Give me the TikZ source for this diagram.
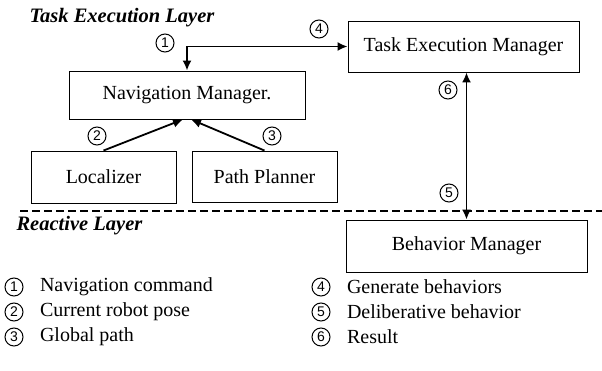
\documentclass[tikz,border=0pt]{standalone}
\usepackage{fontspec}
\setmainfont{Liberation Serif}
\newfontfamily\boxfont{Liberation Serif}
\newfontfamily\digitfont{Liberation Sans}
\usetikzlibrary{positioning,arrows.meta}

\begin{document}
\begin{tikzpicture}[x=1pt,y=-1pt,
    rect/.style={rectangle, draw=black, line width=0.9pt, font=\boxfont\fontsize{20}{24}\selectfont},
    num/.style={circle, draw=black, line width=1pt, inner sep=0pt, minimum size=18pt, font=\digitfont\fontsize{14}{16}\selectfont},
    legend/.style={font=\boxfont\fontsize{20}{24}\selectfont},
    layer/.style={anchor=west, font=\boxfont\bfseries\itshape\fontsize{20.5}{24}\selectfont},
    link/.style={{Latex[length=10pt,width=9pt]}-{Latex[length=10pt,width=9pt]}, line width=1.8pt},
    feed/.style={-{Latex[length=10pt,width=9pt]}, line width=1.8pt}]
    \useasboundingbox (0,0) rectangle (602,371);

    % Nodes
    \node[layer] (tasklayer) at (26,18) {Task Execution Layer};
    \node[layer] (reactlayer) at (13,226) {Reactive Layer};

    \node[rect, minimum width=231pt, minimum height=51pt] (tem) at (463.5,46.5) {Task Execution Manager};
    \node[rect, minimum width=236pt, minimum height=48pt] (nav) at (187,95) {Navigation Manager.};
    \node[rect, minimum width=145pt, minimum height=52pt] (loc) at (103.5,177) {Localizer};
    \node[rect, minimum width=145pt, minimum height=51pt] (planner) at (264.5,176.5) {Path Planner};
    \node[rect, minimum width=241pt, minimum height=52pt] (bm) at (466.5,246) {Behavior Manager};

    \node[num] (n1) at (165,43) {1};
    \node[num] (n2) at (97,136) {2};
    \node[num] (n3) at (272,136) {3};
    \node[num] (n4) at (319,29) {4};
    \node[num] (n5) at (449,193) {5};
    \node[num] (n6) at (448,90) {6};

    % Separator
    \coordinate (sepleft) at (20,211);
    \coordinate (sepright) at (602,211);
    \draw[line width=2.6pt, dash pattern=on 8pt off 4pt] (sepleft) -- (sepright);

    % Arrows
    \draw[link] (tem.west) -| (nav.north);
    \draw[link] (bm.north) -- (bm.north |- tem.south);
    \draw[feed] (loc.north) -- ([xshift=-4pt]nav.south);
    \draw[feed] (planner.north) -- ([xshift=4pt]nav.south);

    % Legend
    \node[num] (k1) at (14,287) {1};
    \node[legend, right=13pt of k1] {Navigation command};
    \node[num] (k2) at (14,312) {2};
    \node[legend, right=13pt of k2] {Current robot pose};
    \node[num] (k3) at (14,337) {3};
    \node[legend, right=13pt of k3] {Global path};
    \node[num] (k4) at (321,287) {4};
    \node[legend, right=13pt of k4] {Generate behaviors};
    \node[num] (k5) at (321,312) {5};
    \node[legend, right=13pt of k5] {Deliberative behavior};
    \node[num] (k6) at (321,337) {6};
    \node[legend, right=13pt of k6] {Result};
\end{tikzpicture}
\end{document}
